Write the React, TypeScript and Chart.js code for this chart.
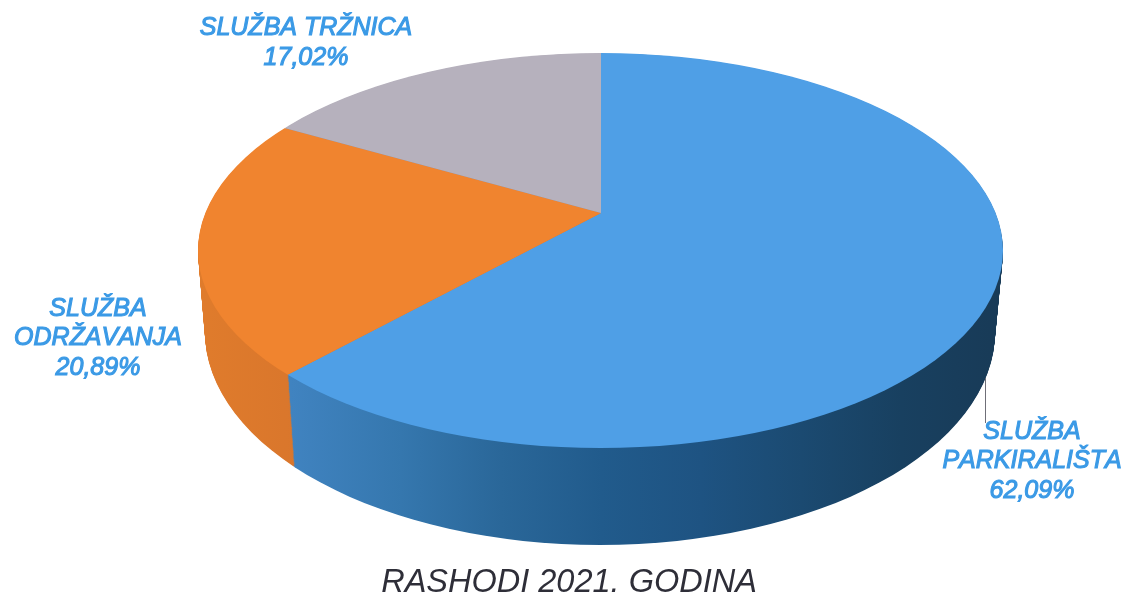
import React, { useEffect, useRef } from "react";
import { Chart, registerables } from "chart.js";

Chart.register(...registerables);

const categories = ["SLUŽBA PARKIRALIŠTA", "SLUŽBA ODRŽAVANJA", "SLUŽBA TRŽNICA"];
const values = [62.09, 20.89, 17.02];
const valueLabels = ["62,09%", "20,89%", "17,02%"];
const categoryLines = [["SLUŽBA", "PARKIRALIŠTA"], ["SLUŽBA", "ODRŽAVANJA"], ["SLUŽBA TRŽNICA"]];
const topColors = ["#4f9fe6", "#f0842f", "#b6b1bd"];
const titleText = "RASHODI 2021. GODINA";

// Geometry of the tilted disc (top face → bottom face of the extrusion).
const top = { cx: 600.5, cy: 250.5, rx: 402.5, ry: 197.5, px: 601, py: 213 };
const bottom = { cx: 600, cy: 332, rx: 395, ry: 213, px: 601, py: 308 };
const squash = 0.49;
const reach = 620;
const labelAnchors = [
  { x: 1032, y: [432, 461, 491] },
  { x: 98, y: [309, 338, 368] },
  { x: 306, y: [28, 58] },
];

const discPlugin = {
  id: "disc",
  beforeDatasetsDraw(chart: any) {
    const ctx: CanvasRenderingContext2D = chart.ctx;
    const arcs = chart.getDatasetMeta(0).data as any[];
    const R = arcs[0].outerRadius;
    const k = reach / R;
    const ax = arcs[0].x;
    const ay = arcs[0].y;

    const paint = (g: any, fills: any[]) => {
      ctx.save();
      ctx.beginPath();
      ctx.ellipse(g.cx, g.cy, g.rx, g.ry, 0, 0, Math.PI * 2);
      ctx.clip();
      ctx.translate(g.px, g.py);
      ctx.scale(k, k * squash);
      ctx.translate(-ax, -ay);
      arcs.forEach((arc, i) => {
        const saved = arc.options;
        arc.options = { ...saved, backgroundColor: fills[i], borderWidth: 0 };
        arc.draw(ctx);
        arc.options = saved;
      });
      ctx.restore();
    };

    const toChartX = (x: number) => ax + (x - 600) / k;
    const grad = (stops: [number, string][]) => {
      const g = ctx.createLinearGradient(toChartX(190), 0, toChartX(1010), 0);
      stops.forEach(([x, c]) => g.addColorStop((x - 190) / 820, c));
      return g;
    };
    const blueSide = grad([
      [190, "#4285c4"], [290, "#4083c0"], [400, "#3577ae"], [500, "#2a6799"],
      [600, "#215b8c"], [700, "#1e5382"], [800, "#1b4a71"], [900, "#184060"], [1010, "#183a56"],
    ]);
    const orangeSide = grad([[190, "#e07c2c"], [300, "#d9762c"], [1010, "#d9762c"]]);
    const sideFills = [blueSide, orangeSide, "#8d8995"];

    const steps = 100;
    for (let s = steps; s >= 1; s--) {
      const t = s / steps;
      const g: any = {};
      (Object.keys(top) as (keyof typeof top)[]).forEach((key) => {
        g[key] = top[key] + (bottom[key] - top[key]) * t;
      });
      paint(g, sideFills);
    }
    paint(top, topColors);
    return false;
  },
  afterDraw(chart: any) {
    const ctx: any = chart.ctx;
    ctx.save();
    ctx.strokeStyle = "#6f6f78";
    ctx.lineWidth = 1;
    ctx.beginPath();
    ctx.moveTo(985.5, 378);
    ctx.lineTo(985.5, 423);
    ctx.stroke();

    ctx.fillStyle = "#3b9ae6";
    ctx.strokeStyle = "#3b9ae6";
    ctx.lineWidth = 1.1;
    ctx.font = "italic 25px 'Liberation Sans'";
    ctx.fontKerning = "none";
    ctx.textAlign = "center";
    ctx.textBaseline = "middle";
    categoryLines.forEach((lines, i) => {
      const rows = [...lines, valueLabels[i]];
      rows.forEach((row, r) => {
        ctx.fillText(row, labelAnchors[i].x, labelAnchors[i].y[r]);
        ctx.strokeText(row, labelAnchors[i].x, labelAnchors[i].y[r]);
      });
    });
    ctx.restore();
  },
};

export default function App() {
  const ref = useRef<HTMLCanvasElement>(null);
  useEffect(() => {
    const chart = new Chart(ref.current!, {
      type: "pie",
      data: {
        labels: categories,
        datasets: [{ data: values, backgroundColor: topColors, borderWidth: 0 }],
      },
      options: {
        responsive: false,
        animation: false,
        layout: { padding: { left: 10 } },
        plugins: {
          legend: { display: false },
          tooltip: { enabled: false },
          title: {
            display: true,
            text: titleText,
            position: "bottom",
            color: "#2e2e38",
            font: { family: "'Liberation Sans'", size: 32.5, style: "italic", weight: "normal", lineHeight: 1 },
            padding: { top: 0, bottom: 0 },
          },
        },
      },
      plugins: [discPlugin],
    } as any);
    return () => chart.destroy();
  }, []);
  return (
    <div style={{ position: "fixed", left: 0, top: 0, width: 1128, height: 599, background: "#fff" }}>
      <canvas ref={ref} width={1128} height={599} style={{ display: "block" }} />
    </div>
  );
}
